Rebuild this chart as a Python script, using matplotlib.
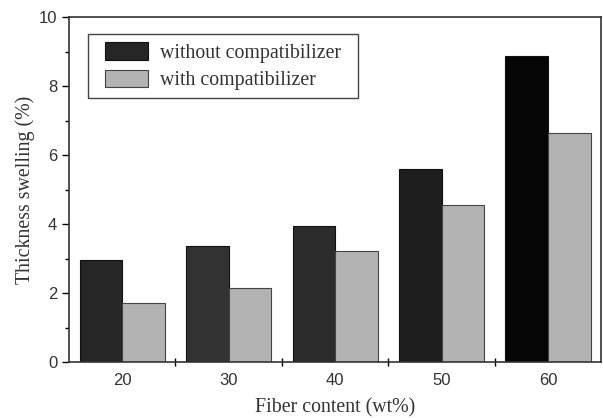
import numpy as np
from matplotlib import pyplot as plt
from matplotlib.ticker import MultipleLocator, FixedLocator

# fiber loading (wt%) and measured thickness swelling (%)
fiber = ["20", "30", "40", "50", "60"]
without_comp = [2.95, 3.35, 3.95, 5.60, 8.87]
with_comp = [1.72, 2.15, 3.23, 4.55, 6.65]

dark_colors = ["#262626", "#333333", "#2c2c2c", "#1e1e1e", "#050505"]
light_color = "#b3b3b3"

fig = plt.figure(figsize=(6.03, 4.18), dpi=100)
ax = fig.add_axes([0.1144, 0.134, 0.8826, 0.825])

x = np.arange(len(fiber))
w = 0.4
ax.bar(x - w / 2, without_comp, w, color=dark_colors, edgecolor="#111111",
       linewidth=0.8, label="without compatibilizer")
ax.bar(x + w / 2, with_comp, w, color=light_color, edgecolor="#444444",
       linewidth=0.8, label="with compatibilizer")

ax.set_xlim(-0.5, len(fiber) - 0.5)
ax.set_ylim(0, 10)
ax.set_xticks(x)
ax.set_xticklabels(fiber)
ax.xaxis.set_minor_locator(FixedLocator(x[:-1] + 0.5))
ax.yaxis.set_major_locator(MultipleLocator(2))
ax.yaxis.set_minor_locator(MultipleLocator(1))

sans = ["Liberation Sans", "DejaVu Sans"]
serif = ["Liberation Serif", "DejaVu Serif"]
for lab in ax.get_xticklabels() + ax.get_yticklabels():
    lab.set_family(sans)
    lab.set_fontsize(12)
    lab.set_color("#333333")

ax.tick_params(axis="x", which="major", length=0, pad=8)
ax.tick_params(axis="x", which="minor", direction="inout", length=6, width=1)
ax.tick_params(axis="y", which="major", direction="out", length=5, width=1)
ax.tick_params(axis="y", which="minor", direction="out", length=3, width=1)
for s in ax.spines.values():
    s.set_linewidth(1.2)
    s.set_color("#333333")

ax.set_xlabel("Fiber content (wt%)", family=serif, fontsize=14.3, color="#333333", labelpad=7)
ax.set_ylabel("Thickness swelling (%)", family=serif, fontsize=14.3, color="#333333", labelpad=3)

leg = ax.legend(loc="upper left", bbox_to_anchor=(0.0526, 0.951), borderaxespad=0,
                prop={"family": serif, "size": 14.3},
                fancybox=False, edgecolor="#444444", framealpha=1,
                handlelength=2.15, handleheight=1.0, handletextpad=0.6,
                labelspacing=0.35, borderpad=0.4)
# wider side margins than top/bottom for the legend frame
frame = leg.get_frame()
frame.set_linewidth(1)
frame.set_boxstyle("square", pad=0.45)
frame.set_mutation_aspect(0.02)
for t in leg.get_texts():
    t.set_color("#333333")

fig.savefig("out.png", dpi=100)
